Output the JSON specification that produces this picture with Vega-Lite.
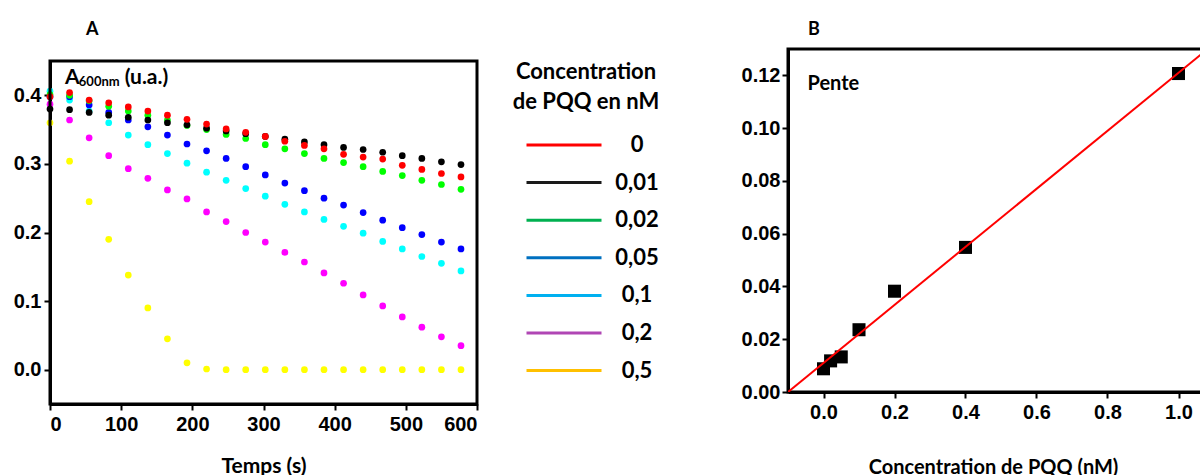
{
  "$schema": "https://vega.github.io/schema/vega-lite/v6.json",
  "background": "white",
  "padding": {"left": 13, "top": 19, "right": 0, "bottom": 0},
  "spacing": 260,
  "config": {
    "view": {"stroke": "black", "strokeWidth": 3},
    "axis": {
      "grid": false, "domainColor": "black", "domainWidth": 3,
      "tickColor": "black", "tickWidth": 2, "tickSize": 6,
      "labelFont": "Liberation Sans", "labelFontWeight": "bold", "labelFontSize": 20, "labelColor": "black",
      "titleFont": "Lato", "titleFontWeight": "bold", "titleFontSize": 20, "titleColor": "black"
    },
    "title": {"font": "Lato", "fontWeight": "bold", "fontSize": 18, "color": "black", "anchor": "start", "frame": "group"}
  },
  "hconcat": [
    {
      "width": 427,
      "height": 355,
      "view": {"stroke": null},
      "title": {"text": "A", "dx": 36, "offset": 10},
      "layer": [
        {
          "data": {"values": [
            {"t":0,"c":"0","a":0.398},{"t":27.5,"c":"0","a":0.404},{"t":55,"c":"0","a":0.393},{"t":82.5,"c":"0","a":0.389},{"t":110,"c":"0","a":0.383},{"t":137.5,"c":"0","a":0.377},{"t":165,"c":"0","a":0.371},{"t":192.5,"c":"0","a":0.365},{"t":220,"c":"0","a":0.358},{"t":247.5,"c":"0","a":0.351},{"t":275,"c":"0","a":0.346},{"t":302.5,"c":"0","a":0.340},{"t":330,"c":"0","a":0.333},{"t":357.5,"c":"0","a":0.327},{"t":385,"c":"0","a":0.322},{"t":412.5,"c":"0","a":0.314},{"t":440,"c":"0","a":0.310},{"t":467.5,"c":"0","a":0.307},{"t":495,"c":"0","a":0.298},{"t":522.5,"c":"0","a":0.292},{"t":550,"c":"0","a":0.286},{"t":577.5,"c":"0","a":0.281},
            {"t":0,"c":"0,01","a":0.380},{"t":27.5,"c":"0,01","a":0.379},{"t":55,"c":"0,01","a":0.375},{"t":82.5,"c":"0,01","a":0.371},{"t":110,"c":"0,01","a":0.368},{"t":137.5,"c":"0,01","a":0.364},{"t":165,"c":"0,01","a":0.360},{"t":192.5,"c":"0,01","a":0.357},{"t":220,"c":"0,01","a":0.352},{"t":247.5,"c":"0,01","a":0.348},{"t":275,"c":"0,01","a":0.344},{"t":302.5,"c":"0,01","a":0.340},{"t":330,"c":"0,01","a":0.336},{"t":357.5,"c":"0,01","a":0.332},{"t":385,"c":"0,01","a":0.328},{"t":412.5,"c":"0,01","a":0.324},{"t":440,"c":"0,01","a":0.321},{"t":467.5,"c":"0,01","a":0.317},{"t":495,"c":"0,01","a":0.312},{"t":522.5,"c":"0,01","a":0.308},{"t":550,"c":"0,01","a":0.303},{"t":577.5,"c":"0,01","a":0.299},
            {"t":0,"c":"0,02","a":0.401},{"t":27.5,"c":"0,02","a":0.400},{"t":55,"c":"0,02","a":0.392},{"t":82.5,"c":"0,02","a":0.384},{"t":110,"c":"0,02","a":0.377},{"t":137.5,"c":"0,02","a":0.371},{"t":165,"c":"0,02","a":0.364},{"t":192.5,"c":"0,02","a":0.356},{"t":220,"c":"0,02","a":0.350},{"t":247.5,"c":"0,02","a":0.343},{"t":275,"c":"0,02","a":0.337},{"t":302.5,"c":"0,02","a":0.328},{"t":330,"c":"0,02","a":0.322},{"t":357.5,"c":"0,02","a":0.315},{"t":385,"c":"0,02","a":0.308},{"t":412.5,"c":"0,02","a":0.302},{"t":440,"c":"0,02","a":0.296},{"t":467.5,"c":"0,02","a":0.289},{"t":495,"c":"0,02","a":0.283},{"t":522.5,"c":"0,02","a":0.276},{"t":550,"c":"0,02","a":0.270},{"t":577.5,"c":"0,02","a":0.263},
            {"t":0,"c":"0,05","a":0.398},{"t":27.5,"c":"0,05","a":0.398},{"t":55,"c":"0,05","a":0.386},{"t":82.5,"c":"0,05","a":0.375},{"t":110,"c":"0,05","a":0.364},{"t":137.5,"c":"0,05","a":0.354},{"t":165,"c":"0,05","a":0.342},{"t":192.5,"c":"0,05","a":0.329},{"t":220,"c":"0,05","a":0.319},{"t":247.5,"c":"0,05","a":0.308},{"t":275,"c":"0,05","a":0.296},{"t":302.5,"c":"0,05","a":0.284},{"t":330,"c":"0,05","a":0.272},{"t":357.5,"c":"0,05","a":0.261},{"t":385,"c":"0,05","a":0.250},{"t":412.5,"c":"0,05","a":0.240},{"t":440,"c":"0,05","a":0.229},{"t":467.5,"c":"0,05","a":0.218},{"t":495,"c":"0,05","a":0.207},{"t":522.5,"c":"0,05","a":0.197},{"t":550,"c":"0,05","a":0.186},{"t":577.5,"c":"0,05","a":0.176},
            {"t":0,"c":"0,1","a":0.406},{"t":27.5,"c":"0,1","a":0.393},{"t":55,"c":"0,1","a":0.377},{"t":82.5,"c":"0,1","a":0.360},{"t":110,"c":"0,1","a":0.342},{"t":137.5,"c":"0,1","a":0.328},{"t":165,"c":"0,1","a":0.315},{"t":192.5,"c":"0,1","a":0.301},{"t":220,"c":"0,1","a":0.288},{"t":247.5,"c":"0,1","a":0.276},{"t":275,"c":"0,1","a":0.264},{"t":302.5,"c":"0,1","a":0.253},{"t":330,"c":"0,1","a":0.241},{"t":357.5,"c":"0,1","a":0.230},{"t":385,"c":"0,1","a":0.219},{"t":412.5,"c":"0,1","a":0.209},{"t":440,"c":"0,1","a":0.199},{"t":467.5,"c":"0,1","a":0.187},{"t":495,"c":"0,1","a":0.176},{"t":522.5,"c":"0,1","a":0.165},{"t":550,"c":"0,1","a":0.155},{"t":577.5,"c":"0,1","a":0.144},
            {"t":0,"c":"0,2","a":0.387},{"t":27.5,"c":"0,2","a":0.364},{"t":55,"c":"0,2","a":0.338},{"t":82.5,"c":"0,2","a":0.312},{"t":110,"c":"0,2","a":0.293},{"t":137.5,"c":"0,2","a":0.279},{"t":165,"c":"0,2","a":0.262},{"t":192.5,"c":"0,2","a":0.249},{"t":220,"c":"0,2","a":0.230},{"t":247.5,"c":"0,2","a":0.216},{"t":275,"c":"0,2","a":0.200},{"t":302.5,"c":"0,2","a":0.186},{"t":330,"c":"0,2","a":0.171},{"t":357.5,"c":"0,2","a":0.157},{"t":385,"c":"0,2","a":0.141},{"t":412.5,"c":"0,2","a":0.126},{"t":440,"c":"0,2","a":0.109},{"t":467.5,"c":"0,2","a":0.093},{"t":495,"c":"0,2","a":0.077},{"t":522.5,"c":"0,2","a":0.062},{"t":550,"c":"0,2","a":0.048},{"t":577.5,"c":"0,2","a":0.035},
            {"t":0,"c":"0,5","a":0.360},{"t":27.5,"c":"0,5","a":0.304},{"t":55,"c":"0,5","a":0.245},{"t":82.5,"c":"0,5","a":0.190},{"t":110,"c":"0,5","a":0.138},{"t":137.5,"c":"0,5","a":0.090},{"t":165,"c":"0,5","a":0.045},{"t":192.5,"c":"0,5","a":0.010},{"t":220,"c":"0,5","a":0.001},{"t":247.5,"c":"0,5","a":0.000},{"t":275,"c":"0,5","a":0.000},{"t":302.5,"c":"0,5","a":0.000},{"t":330,"c":"0,5","a":0.000},{"t":357.5,"c":"0,5","a":0.000},{"t":385,"c":"0,5","a":0.000},{"t":412.5,"c":"0,5","a":0.000},{"t":440,"c":"0,5","a":0.000},{"t":467.5,"c":"0,5","a":0.000},{"t":495,"c":"0,5","a":0.000},{"t":522.5,"c":"0,5","a":0.000},{"t":550,"c":"0,5","a":0.000},{"t":577.5,"c":"0,5","a":0.000}
          ]},
          "layer": [
            {
              "mark": {"type": "circle", "size": 45, "opacity": 1},
              "encoding": {
                "x": {"field": "t", "type": "quantitative", "scale": {"domain": [0, 600], "nice": false},
                      "axis": {"values": [0,100,200,300,400,500,600], "format": "d", "title": "Temps (s)", "titleFontSize": 21, "titlePadding": 21, "labelPadding": 4}},
                "y": {"field": "a", "type": "quantitative", "scale": {"domain": [-0.05, 0.45], "nice": false, "range": [355, 12]},
                      "axis": {"values": [0,0.1,0.2,0.3,0.4], "format": ".1f", "title": null, "labelPadding": 3}},
                "color": {"field": "c", "type": "nominal", "legend": null,
                          "scale": {"domain": ["0,5","0,2","0,1","0,05","0,02","0,01","0"],
                                    "range": ["#ffff00","#ff00ff","#00ffff","#0000ff","#00ff00","#000000","#ff0000"]}},
                "order": {"field": "c", "sort": "descending"}
              }
            },
            {
              "mark": {"type": "point", "opacity": 0, "filled": false},
              "encoding": {
                "x": {"field": "t", "type": "quantitative"},
                "y": {"field": "a", "type": "quantitative"},
                "stroke": {"field": "c", "type": "nominal",
                           "scale": {"domain": ["0","0,01","0,02","0,05","0,1","0,2","0,5"],
                                     "range": ["#ff0000","#1a1a1a","#00b050","#0070c0","#00b0f0","#b046b4","#ffc000"]},
                           "legend": {
                             "title": ["Concentration", "de PQQ en nM"],
                             "orient": "none", "legendX": 463, "legendY": 13,
                             "titleFont": "Lato", "titleFontWeight": "bold", "titleFontSize": 22, "titleColor": "black",
                             "titleAnchor": "middle", "titleAlign": "center", "titleLineHeight": 30, "titlePadding": 21,
                             "labelFont": "Lato", "labelFontWeight": "bold", "labelFontSize": 22, "labelColor": "black",
                             "labelAlign": "center", "labelOffset": 34,
                             "symbolType": "stroke", "symbolSize": 5625, "symbolStrokeWidth": 3, "symbolOpacity": 1,
                             "symbolOffset": 12,
                             "clipHeight": 20, "rowPadding": 15.6
                           }}
              }
            }
          ]
        },
        {
          "data": {"values": [{}]},
          "mark": {"type": "rect", "filled": false, "stroke": "black", "strokeWidth": 3},
          "encoding": {"x": {"datum": 0}, "x2": {"datum": 600}, "y": {"datum": -0.05}, "y2": {"datum": 0.45}}
        },
        {
          "data": {"values": [{}]},
          "mark": {"type": "text", "font": "Lato", "fontWeight": "bold", "fontSize": 21, "align": "left", "baseline": "alphabetic", "color": "black"},
          "encoding": {"x": {"datum": 21}, "y": {"datum": 0.416}, "text": {"value": "A"}}
        },
        {
          "data": {"values": [{}]},
          "mark": {"type": "text", "font": "Lato", "fontWeight": "bold", "fontSize": 13, "align": "left", "baseline": "alphabetic", "color": "black"},
          "encoding": {"x": {"datum": 40.5}, "y": {"datum": 0.413}, "text": {"value": "600nm"}}
        },
        {
          "data": {"values": [{}]},
          "mark": {"type": "text", "font": "Lato", "fontWeight": "bold", "fontSize": 21, "align": "left", "baseline": "alphabetic", "color": "black"},
          "encoding": {"x": {"datum": 105}, "y": {"datum": 0.416}, "text": {"value": "(u.a.)"}}
        }
      ]
    },
    {
      "width": 426,
      "height": 343,
      "title": {"text": "B", "dx": 20, "offset": 10},
      "layer": [
        {
          "data": {"values": [
            {"pqq": 0, "pente": 0.0088},
            {"pqq": 0.02, "pente": 0.0118},
            {"pqq": 0.05, "pente": 0.0133},
            {"pqq": 0.1, "pente": 0.0236},
            {"pqq": 0.2, "pente": 0.0382},
            {"pqq": 0.4, "pente": 0.0548},
            {"pqq": 1.0, "pente": 0.1207}
          ]},
          "mark": {"type": "square", "size": 170, "filled": true, "color": "black", "opacity": 1},
          "encoding": {
            "x": {"field": "pqq", "type": "quantitative", "scale": {"domain": [-0.1, 1.1], "nice": false},
                  "axis": {"values": [0,0.2,0.4,0.6,0.8,1.0], "format": ".1f", "title": "Concentration de PQQ (nM)", "titlePadding": 35, "titleFontSize": 20, "titleX": 205, "labelPadding": 4}},
            "y": {"field": "pente", "type": "quantitative", "scale": {"domain": [0, 0.13], "nice": false},
                  "axis": {"values": [0,0.02,0.04,0.06,0.08,0.1,0.12], "format": ".2f", "title": null, "labelPadding": 2}}
          }
        },
        {
          "data": {"values": [
            {"pqq": -0.1, "fit": 0.0},
            {"pqq": 1.1, "fit": 0.132}
          ]},
          "mark": {"type": "line", "color": "#ff0000", "strokeWidth": 2, "clip": true},
          "encoding": {
            "x": {"field": "pqq", "type": "quantitative"},
            "y": {"field": "fit", "type": "quantitative"}
          }
        },
        {
          "data": {"values": [{}]},
          "mark": {"type": "text", "font": "Lato", "fontWeight": "bold", "fontSize": 20, "align": "left", "baseline": "middle", "color": "black"},
          "encoding": {"x": {"datum": -0.045}, "y": {"datum": 0.1167}, "text": {"value": "Pente"}}
        }
      ]
    }
  ]
}
